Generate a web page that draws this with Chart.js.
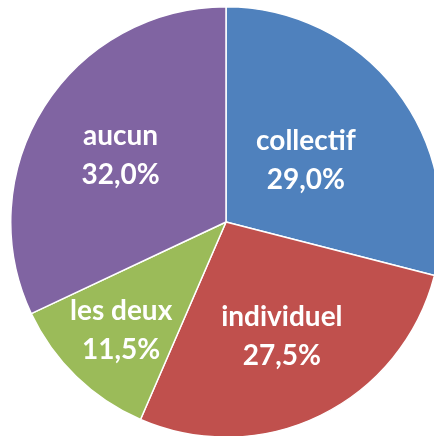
<!DOCTYPE html>
<html>
<head>
<meta charset="utf-8">
<script src="https://cdn.jsdelivr.net/npm/chart.js@4"></script>
<style>
    html, body { margin: 0; padding: 0; background: #ffffff; overflow: hidden; }
    body { width: 434px; height: 436px; position: relative; }
    #wrap { position: absolute; left: 10px; top: 6px; width: 432px; height: 432px; }
</style>
</head>
<body>
<div id="wrap"><canvas id="pieChart" width="432" height="432"></canvas></div>
<script>
const categories = ['collectif', 'individuel', 'les deux', 'aucun'];
const shares = [29.0, 27.5, 11.5, 32.0];
const sliceColors = ['#4F81BD', '#C0504D', '#9BBB59', '#8064A2'];

// Label distance from centre, as a fraction of the radius (Excel "best fit" look)
const labelRadius = [0.47, 0.59, 0.70, 0.58];

function formatShare(v) {
    return v.toFixed(1).replace('.', ',') + '%';
}

const sliceLabels = {
    id: 'sliceLabels',
    afterDatasetsDraw(chart) {
        const ctx = chart.ctx;
        const meta = chart.getDatasetMeta(0);
        ctx.save();
        ctx.fillStyle = '#ffffff';
        ctx.font = 'bold 28px Lato';
        ctx.textAlign = 'center';
        ctx.textBaseline = 'middle';
        meta.data.forEach(function(arc, i) {
            const p = arc.getProps(['x', 'y', 'startAngle', 'endAngle', 'outerRadius']);
            const mid = (p.startAngle + p.endAngle) / 2;
            const r = p.outerRadius * labelRadius[i];
            const cx = p.x + Math.cos(mid) * r;
            const cy = p.y + Math.sin(mid) * r;
            ctx.fillText(categories[i], cx, cy - 19);
            ctx.fillText(formatShare(shares[i]), cx, cy + 20);
        });
        ctx.restore();
    }
};

new Chart(document.getElementById('pieChart'), {
    type: 'pie',
    data: {
        labels: categories,
        datasets: [{
            data: shares,
            backgroundColor: sliceColors,
            borderColor: '#ffffff',
            borderWidth: 1.5
        }]
    },
    options: {
        responsive: false,
        animation: false,
        layout: { padding: 0 },
        plugins: {
            legend: { display: false },
            tooltip: { enabled: false }
        }
    },
    plugins: [sliceLabels]
});
</script>
</body>
</html>
